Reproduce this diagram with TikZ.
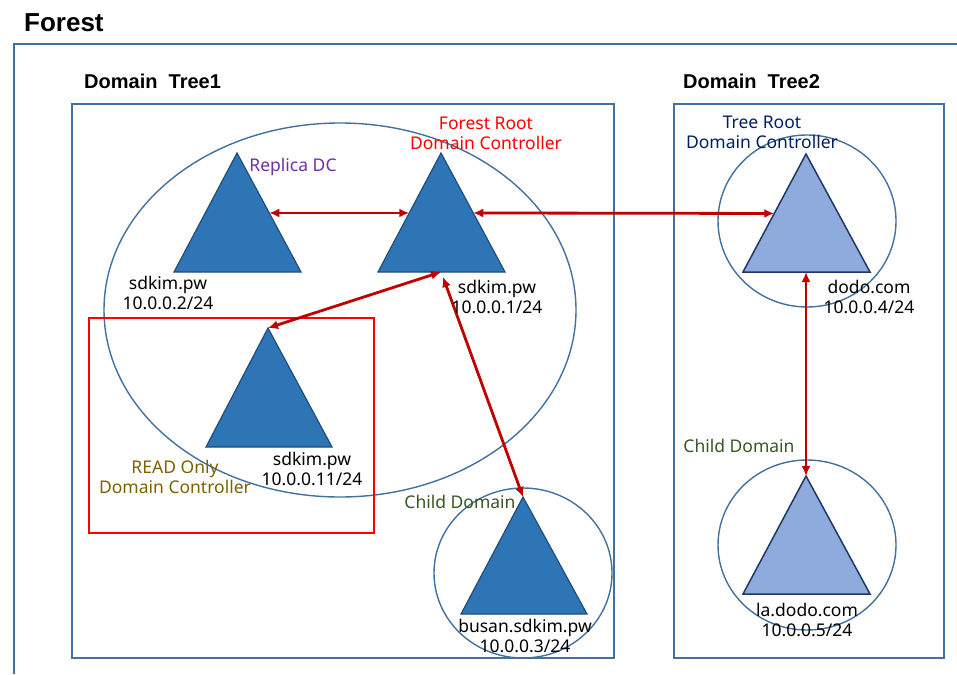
\documentclass[tikz,border=0pt]{standalone}
\usepackage{fontspec}
\setmainfont{Noto Sans}
\newfontfamily\headfont{Liberation Sans}
\usetikzlibrary{calc,arrows.meta}
\definecolor{frameblue}{HTML}{41719C}
\definecolor{dcblue}{HTML}{2E75B6}
\definecolor{dcedge}{HTML}{1F4E79}
\definecolor{lightdc}{HTML}{8FAADC}
\definecolor{lightedge}{HTML}{203864}
\definecolor{linkred}{HTML}{C00000}
\definecolor{replicapurple}{HTML}{7030A0}
\definecolor{rootred}{HTML}{FF0000}
\definecolor{rodcolive}{HTML}{7F6000}
\definecolor{childgreen}{HTML}{385723}
\definecolor{treenavy}{HTML}{002060}
\tikzset{>={Latex[length=10pt,width=9pt]}}
\tikzset{
  frame/.style={draw=frameblue, line width=2pt},
  domainring/.style={draw=frameblue, line width=1.4pt},
  dc/.style={fill=dcblue, draw=dcedge, line width=1.2pt},
  lightdcstyle/.style={fill=lightdc, draw=lightedge, line width=1.5pt},
  link/.style={<->, draw=linkred, line width=2.8pt},
  lbl/.style={inner sep=0pt, align=center, font=\fontsize{17.5}{20}\selectfont},
  treetitle/.style={inner sep=0pt, anchor=base west, font=\headfont\bfseries\fontsize{20}{24}\selectfont}
}

\begin{document}
\begin{tikzpicture}[x=1pt, y=-1pt]
  \useasboundingbox (0,0) rectangle (957,674);

  % frames
  \node[inner sep=0pt, anchor=base west, font=\headfont\bfseries\fontsize{26}{30}\selectfont] (forest) at (24,32) {Forest};
  \draw[frame] (957,44) -- (14,44) -- (14,674);
  \node[treetitle] (tree1) at (84,89) {Domain\ \ Tree1};
  \node[treetitle] (tree2) at (683,89) {Domain\ \ Tree2};
  \draw[frame] (72,104) rectangle (614,658);
  \draw[frame] (674,104) rectangle (944,658);

  % domains
  \draw[domainring] (340,310) ellipse (236 and 187);
  \draw[domainring] (523,573) ellipse (89 and 85);
  \draw[domainring] (807,221) ellipse (89 and 86);
  \draw[domainring] (807,545) ellipse (89 and 85);
  \draw[draw=red, line width=2.6pt] (89,318) rectangle (374,533);

  % domain controllers
  \coordinate (rep-t) at (237,153);   \coordinate (rep-r) at (301,272);
  \coordinate (root-t) at (441,153);  \coordinate (root-l) at (378,272);
  \coordinate (root-r) at (505,272);  \coordinate (root-b) at (441,272);
  \coordinate (rodc-t) at (268,328);
  \coordinate (busan-t) at (523,497);
  \coordinate (dodo-t) at (806,154);  \coordinate (dodo-l) at (743,272);
  \coordinate (dodo-b) at (806,272);
  \coordinate (la-t) at (806,476);
  \draw[dc] (rep-t) -- (174,272) -- (rep-r) -- cycle;
  \draw[dc] (root-t) -- (root-l) -- (root-r) -- cycle;
  \draw[dc] (rodc-t) -- (206,447) -- (332,447) -- cycle;
  \draw[dc] (busan-t) -- (461,614) -- (587,614) -- cycle;
  \draw[lightdcstyle] (dodo-t) -- (dodo-l) -- (870,272) -- cycle;
  \draw[lightdcstyle] (la-t) -- (743,594) -- (870,594) -- cycle;

  % trust links
  \coordinate (rep-e) at ($(rep-t)!0.504!(rep-r)$);
  \coordinate (root-w) at ($(root-t)!0.504!(root-l)$);
  \coordinate (root-e) at ($(root-t)!0.504!(root-r)$);
  \coordinate (dodo-w) at ($(dodo-t)!0.504!(dodo-l)$);
  \draw[link] (rep-e) -- (root-w);
  \draw[link] (root-e) -- (dodo-w);
  \draw[link] (root-b) -- (rodc-t);
  \draw[link] ($(root-b)+(2,5)$) -- (busan-t);
  \draw[link] (dodo-b) -- (la-t);

  % labels
  \node[lbl, text=replicapurple] (replica) at (293,167) {Replica DC};
  \node[lbl, text=rootred] (rootlabel) at (486,133) {Forest Root\\Domain Controller};
  \node[lbl] (rep-ip) at (168,293) {sdkim.pw\\10.0.0.2/24};
  \node[lbl] (root-ip) at (497,297) {sdkim.pw\\10.0.0.1/24};
  \node[lbl] (rodc-ip) at (312,469) {sdkim.pw\\10.0.0.11/24};
  \node[lbl, text=rodcolive] (rodclabel) at (175,477) {READ Only\\Domain Controller};
  \node[lbl, text=childgreen] (child1) at (460,502) {Child Domain};
  \node[lbl] (busan-ip) at (525,636) {busan.sdkim.pw\\10.0.0.3/24};
  \node[lbl, text=treenavy] (treeroot) at (762,132) {Tree Root\\Domain Controller};
  \node[lbl] (dodo-ip) at (869,297) {dodo.com\\10.0.0.4/24};
  \node[lbl, text=childgreen] (child2) at (739,446) {Child Domain};
  \node[lbl] (la-ip) at (807,620) {la.dodo.com\\10.0.0.5/24};
\end{tikzpicture}
\end{document}
